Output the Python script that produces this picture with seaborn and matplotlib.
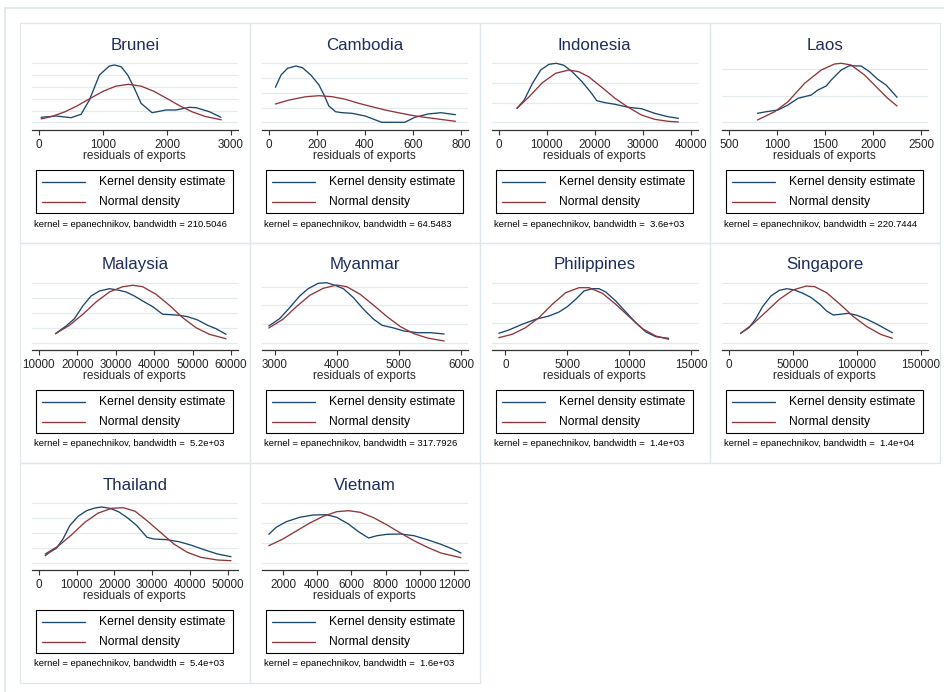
import matplotlib
matplotlib.use("Agg")
import matplotlib.pyplot as plt
import seaborn as sns
import pandas as pd
from matplotlib.patches import Rectangle
from matplotlib.lines import Line2D

# ---------------- data (density heights in arbitrary units) -------------
COUNTRIES = ["Brunei", "Cambodia", "Indonesia", "Laos", "Malaysia",
             "Myanmar", "Philippines", "Singapore", "Thailand", "Vietnam"]

BANDWIDTHS = ["210.5046", "64.5483", " 3.6e+03", "220.7444", " 5.2e+03",
              "317.7926", " 1.4e+03", " 1.4e+04", " 5.4e+03", " 1.6e+03"]

BRUNEI_TICKS = [0, 1000, 2000, 3000]
CAMBODIA_TICKS = [0, 200, 400, 600, 800]
INDONESIA_TICKS = [0, 10000, 20000, 30000, 40000]
LAOS_TICKS = [500, 1000, 1500, 2000, 2500]
MALAYSIA_TICKS = [10000, 20000, 30000, 40000, 50000, 60000]
MYANMAR_TICKS = [3000, 4000, 5000, 6000]
PHILIPPINES_TICKS = [0, 5000, 10000, 15000]
SINGAPORE_TICKS = [0, 50000, 100000, 150000]
THAILAND_TICKS = [0, 10000, 20000, 30000, 40000, 50000]
VIETNAM_TICKS = [2000, 4000, 6000, 8000, 10000, 12000]

BRUNEI_GRID = [7.7, 19.5, 31.3, 43.1, 54.9, 66.7]
CAMBODIA_GRID = [7.7, 22.45, 37.2, 51.95, 66.7]
INDONESIA_GRID = [7.7, 27.4, 47.0, 66.7]
LAOS_GRID = [7.7, 34.3, 61.0]
MALAYSIA_GRID = [7.3, 22.3, 37.3, 52.3, 67.3]
MYANMAR_GRID = [7.3, 26.0, 44.7, 63.3]
PHILIPPINES_GRID = [7.3, 27.3, 47.3, 67.3]
SINGAPORE_GRID = [7.3, 27.3, 47.3, 67.3]
THAILAND_GRID = [7.3, 22.3, 37.3, 52.2, 67.0]
VIETNAM_GRID = [7.3, 27.1, 46.9, 66.7]

BRUNEI_KDE_X = [36, 270, 504, 660, 790, 946, 1102, 1180, 1284, 1388, 1492, 1596, 1768, 1986, 2142, 2350, 2454, 2662, 2844]
BRUNEI_KDE_Y = [12.7, 14.0, 12.3, 15.7, 30.0, 55.0, 64.0, 65.0, 63.3, 55.0, 41.7, 26.7, 17.3, 20.0, 20.0, 22.7, 22.3, 18.3, 12.7]
BRUNEI_NORM_X = [36, 200, 400, 600, 800, 1000, 1200, 1400, 1600, 1800, 2000, 2200, 2400, 2600, 2850]
BRUNEI_NORM_Y = [11.1, 13.5, 18.0, 24.2, 31.5, 38.6, 43.8, 45.7, 43.8, 38.6, 31.5, 24.2, 18.0, 13.5, 10.2]

CAMBODIA_KDE_X = [27.5, 51, 78, 113, 140, 175, 209, 230, 250, 278, 305, 346, 401, 470, 539, 566, 608, 663, 717, 777]
CAMBODIA_KDE_Y = [42.7, 55.0, 61.7, 64.0, 62.3, 55.0, 45.0, 35.0, 24.0, 18.3, 17.3, 16.7, 14.0, 7.7, 7.7, 7.7, 12.7, 16.0, 17.3, 15.3]
CAMBODIA_NORM_X = [27.5, 85, 154, 209, 264, 319, 374, 429, 484, 539, 594, 649, 704, 777]
CAMBODIA_NORM_Y = [26.0, 30.0, 33.3, 34.3, 33.3, 30.7, 26.7, 23.3, 20.0, 17.3, 14.7, 12.7, 11.0, 8.7]

INDONESIA_KDE_X = [3780, 5290, 7010, 8730, 10450, 11960, 13540, 15260, 17320, 19040, 20410, 22130, 24190, 26940, 29690, 32440, 35190, 37390]
INDONESIA_KDE_Y = [21.7, 30.0, 46.7, 60.0, 65.7, 66.7, 64.7, 58.3, 48.3, 38.3, 29.3, 27.3, 25.7, 22.7, 21.3, 16.7, 13.3, 11.7]
INDONESIA_NORM_X = [3780, 6320, 9070, 11820, 14570, 16630, 18690, 21440, 24190, 26940, 29690, 32440, 35190, 37390]
INDONESIA_NORM_Y = [21.7, 33.3, 47.3, 56.7, 60.0, 58.3, 53.3, 42.7, 31.7, 22.7, 15.0, 10.7, 8.7, 8.0]

LAOS_KDE_X = [798, 891, 1012, 1116, 1220, 1358, 1427, 1514, 1566, 1670, 1756, 1877, 1964, 2050, 2137, 2251]
LAOS_KDE_Y = [16.7, 18.3, 20.0, 25.0, 31.7, 35.0, 40.0, 44.0, 50.0, 60.0, 64.3, 64.0, 58.3, 50.7, 45.0, 32.7]
LAOS_NORM_X = [798, 978, 1116, 1289, 1462, 1600, 1670, 1773, 1912, 2050, 2154, 2251]
LAOS_NORM_Y = [10.0, 18.3, 28.3, 46.7, 60.0, 66.0, 66.7, 65.0, 55.0, 41.7, 31.7, 24.0]

MALAYSIA_KDE_X = [14330, 17100, 19270, 21440, 23600, 25770, 28370, 30540, 32700, 34870, 37040, 39640, 42240, 44400, 46570, 48730, 51330, 53930, 56100, 58700]
MALAYSIA_KDE_Y = [16.3, 24.0, 31.3, 44.0, 54.0, 59.0, 61.3, 60.0, 58.0, 54.0, 49.0, 43.3, 35.7, 35.3, 34.7, 33.3, 30.0, 24.7, 21.3, 15.7]
MALAYSIA_NORM_X = [14330, 17970, 21440, 24900, 28370, 31840, 34440, 37040, 40500, 43970, 47440, 50900, 54370, 58700]
MALAYSIA_NORM_Y = [16.3, 24.7, 35.7, 48.0, 58.0, 63.3, 64.7, 63.3, 55.7, 44.7, 32.3, 22.3, 15.7, 11.3]

MYANMAR_KDE_X = [2908, 3081, 3243, 3405, 3541, 3703, 3838, 3973, 4108, 4270, 4432, 4595, 4730, 4919, 5081, 5297, 5514, 5730]
MYANMAR_KDE_Y = [24.0, 31.3, 42.3, 54.0, 61.3, 66.7, 67.3, 64.7, 61.3, 52.3, 40.7, 30.7, 24.7, 22.0, 19.0, 17.3, 17.3, 16.0]
MYANMAR_NORM_X = [2908, 3135, 3351, 3568, 3784, 4000, 4162, 4378, 4595, 4811, 5027, 5243, 5460, 5730]
MYANMAR_NORM_Y = [22.0, 30.7, 43.3, 54.7, 61.7, 65.0, 63.3, 55.7, 44.7, 33.3, 23.3, 16.3, 12.0, 9.0]

PHILIPPINES_KDE_X = [-540, 270, 1351, 2432, 3514, 4324, 5000, 5676, 6351, 7027, 7568, 8108, 8919, 9730, 10540, 11351, 12160, 13190]
PHILIPPINES_KDE_Y = [16.7, 20.0, 25.7, 30.7, 34.0, 38.0, 43.3, 50.7, 59.0, 61.3, 61.3, 58.0, 49.0, 38.0, 27.3, 18.0, 13.3, 11.7]
PHILIPPINES_NORM_X = [-540, 540, 1622, 2703, 3784, 4865, 5946, 6757, 7838, 8919, 10000, 11081, 12160, 13190]
PHILIPPINES_NORM_Y = [12.3, 15.7, 22.3, 32.3, 45.7, 57.3, 62.3, 62.3, 56.7, 45.7, 33.3, 21.3, 14.0, 10.7]

SINGAPORE_KDE_X = [9210, 15790, 21050, 26320, 32890, 39470, 45260, 51320, 57890, 64470, 71050, 76320, 81580, 86840, 93420, 100000, 107890, 115790, 127630]
SINGAPORE_KDE_Y = [16.7, 22.3, 31.3, 43.3, 54.0, 59.7, 61.3, 60.0, 56.7, 52.3, 45.7, 39.0, 35.0, 35.7, 36.7, 34.7, 30.7, 25.7, 17.3]
SINGAPORE_NORM_X = [9210, 18420, 28950, 39470, 50000, 60530, 67110, 76320, 86840, 97370, 107890, 118420, 127630]
SINGAPORE_NORM_Y = [16.7, 25.7, 38.0, 50.7, 60.0, 64.0, 63.3, 57.3, 45.7, 33.3, 23.3, 15.7, 11.7]

THAILAND_KDE_X = [1690, 2850, 4630, 6410, 8190, 10410, 12630, 14860, 16640, 18860, 21090, 23310, 25980, 28650, 30430, 33990, 37100, 40210, 43770, 47330, 50890]
THAILAND_KDE_Y = [14.3, 17.7, 21.7, 31.0, 44.3, 53.7, 59.3, 62.0, 63.0, 61.7, 58.3, 52.7, 44.3, 32.7, 31.0, 30.3, 28.3, 25.0, 20.3, 16.0, 13.3]
THAILAND_NORM_X = [1690, 5070, 8630, 12190, 15750, 19310, 22420, 25530, 28650, 32210, 35770, 39320, 42880, 47330, 50890]
THAILAND_NORM_Y = [16.0, 23.7, 35.0, 47.7, 57.0, 61.7, 62.3, 58.7, 49.3, 37.7, 26.0, 17.7, 12.7, 10.0, 9.3]

VIETNAM_KDE_X = [1176, 1608, 2196, 2980, 3765, 4549, 5137, 5824, 6412, 7000, 7490, 8078, 8863, 9647, 10430, 11220, 11900, 12392]
VIETNAM_KDE_Y = [35.7, 42.7, 48.3, 52.7, 55.0, 55.3, 52.7, 46.0, 38.3, 32.0, 34.3, 35.7, 36.0, 34.3, 30.3, 25.7, 21.0, 17.0]
VIETNAM_NORM_X = [1176, 2000, 2784, 3569, 4353, 5137, 5824, 6510, 7294, 8078, 8863, 9647, 10430, 11220, 12392]
VIETNAM_NORM_Y = [24.3, 31.0, 39.0, 47.0, 53.7, 58.3, 59.3, 57.7, 52.3, 45.0, 37.0, 29.3, 22.7, 17.0, 12.3]

PANELS = [
    (BRUNEI_KDE_X, BRUNEI_KDE_Y, BRUNEI_NORM_X, BRUNEI_NORM_Y, BRUNEI_TICKS, BRUNEI_GRID),
    (CAMBODIA_KDE_X, CAMBODIA_KDE_Y, CAMBODIA_NORM_X, CAMBODIA_NORM_Y, CAMBODIA_TICKS, CAMBODIA_GRID),
    (INDONESIA_KDE_X, INDONESIA_KDE_Y, INDONESIA_NORM_X, INDONESIA_NORM_Y, INDONESIA_TICKS, INDONESIA_GRID),
    (LAOS_KDE_X, LAOS_KDE_Y, LAOS_NORM_X, LAOS_NORM_Y, LAOS_TICKS, LAOS_GRID),
    (MALAYSIA_KDE_X, MALAYSIA_KDE_Y, MALAYSIA_NORM_X, MALAYSIA_NORM_Y, MALAYSIA_TICKS, MALAYSIA_GRID),
    (MYANMAR_KDE_X, MYANMAR_KDE_Y, MYANMAR_NORM_X, MYANMAR_NORM_Y, MYANMAR_TICKS, MYANMAR_GRID),
    (PHILIPPINES_KDE_X, PHILIPPINES_KDE_Y, PHILIPPINES_NORM_X, PHILIPPINES_NORM_Y, PHILIPPINES_TICKS, PHILIPPINES_GRID),
    (SINGAPORE_KDE_X, SINGAPORE_KDE_Y, SINGAPORE_NORM_X, SINGAPORE_NORM_Y, SINGAPORE_TICKS, SINGAPORE_GRID),
    (THAILAND_KDE_X, THAILAND_KDE_Y, THAILAND_NORM_X, THAILAND_NORM_Y, THAILAND_TICKS, THAILAND_GRID),
    (VIETNAM_KDE_X, VIETNAM_KDE_Y, VIETNAM_NORM_X, VIETNAM_NORM_Y, VIETNAM_TICKS, VIETNAM_GRID),
]

# ---------------- styling ----------------
sns.set_style("white")
plt.rcParams["font.family"] = ["Liberation Sans", "DejaVu Sans"]

W, H = 944, 692
BLUE = "#1a476f"
RED = "#90353b"
TITLE_COLOR = "#1e2d5a"
GRID_COLOR = "#e4ebef"
BORDER_COLOR = "#dfe7eb"
AXIS_COLOR = "#333333"

fig = plt.figure(figsize=(W / 100, H / 100), dpi=100)
fig.patch.set_facecolor("white")


def fx(x):
    return x / W


def fy(y):
    return 1 - y / H


# outer frame (only left/top edges visible)
fig.add_artist(Line2D([fx(5), fx(W)], [fy(8), fy(8)], color=BORDER_COLOR, lw=1.2,
                      transform=fig.transFigure))
fig.add_artist(Line2D([fx(5), fx(5)], [fy(8), fy(H)], color=BORDER_COLOR, lw=1.2,
                      transform=fig.transFigure))

PX0, PY0, PW, PH = 20, 23, 230, 220

for i, (name, bw, panel) in enumerate(zip(COUNTRIES, BANDWIDTHS, PANELS)):
    kx, ky, nx, ny, ticks, grid = panel
    r, c = divmod(i, 4)
    x0 = PX0 + c * PW
    y0 = PY0 + r * PH

    # panel border
    fig.add_artist(Rectangle((fx(x0), fy(y0 + PH)), (PW - 0.5) / W, PH / H,
                             transform=fig.transFigure, fill=False,
                             edgecolor=BORDER_COLOR, lw=0.9))

    ax = fig.add_axes([fx(x0 + 11.7), fy(y0 + 107), 206 / W, 70 / H])
    ax.set_facecolor("none")

    df_k = pd.DataFrame({"x": kx, "y": ky})
    df_n = pd.DataFrame({"x": nx, "y": ny})
    sns.lineplot(data=df_k, x="x", y="y", ax=ax, color=BLUE, lw=0.95,
                 estimator=None, sort=False, zorder=3)
    sns.lineplot(data=df_n, x="x", y="y", ax=ax, color=RED, lw=0.95,
                 estimator=None, sort=False, zorder=3)

    lo = min(ticks[0], min(kx), min(nx))
    hi = max(ticks[-1], max(kx), max(nx))
    span = hi - lo
    ax.set_xlim(lo - span * 0.037, hi + span * 0.035)
    ax.set_ylim(0, 70)

    ax.set_xticks(ticks)
    ax.set_xticklabels([str(t) for t in ticks], fontsize=8.4)
    ax.set_yticks(grid)
    ax.set_yticklabels([])
    ax.tick_params(axis="y", length=0)
    ax.tick_params(axis="x", length=3.6, width=0.8, color=AXIS_COLOR, pad=3.0,
                   direction="out", bottom=True)
    ax.grid(axis="y", color=GRID_COLOR, lw=0.9)
    ax.grid(axis="x", visible=False)
    for s in ["left", "right", "top"]:
        ax.spines[s].set_visible(False)
    ax.spines["bottom"].set_color(AXIS_COLOR)
    ax.spines["bottom"].set_linewidth(0.9)

    ax.set_xlabel("residuals of exports", fontsize=8.6)
    ax.xaxis.set_label_coords(0.5, -25.7 / 70)
    ax.xaxis.label.set_va("center")
    ax.set_ylabel("")

    # title
    fig.text(fx(x0 + 114.7), fy(y0 + 22), name, ha="center", va="center",
             fontsize=12.2, color=TITLE_COLOR)

    # legend box
    fig.add_artist(Rectangle((fx(x0 + 16), fy(y0 + 190)), 197 / W, 43 / H,
                             transform=fig.transFigure, fill=False,
                             edgecolor="black", lw=0.8))
    for yy, col, lab in [(158.7, BLUE, "Kernel density estimate"),
                         (179.3, RED, "Normal density")]:
        fig.add_artist(Line2D([fx(x0 + 21.7), fx(x0 + 65)], [fy(y0 + yy)] * 2,
                              color=col, lw=0.95, transform=fig.transFigure))
        fig.text(fx(x0 + 79.3), fy(y0 + yy), lab, ha="left", va="center",
                 fontsize=8.7, color="black")

    # note
    fig.text(fx(x0 + 14.3), fy(y0 + 201), "kernel = epanechnikov, bandwidth = " + bw,
             ha="left", va="center", fontsize=6.8, color="black")

fig.savefig("out.png", dpi=100, facecolor="white")
